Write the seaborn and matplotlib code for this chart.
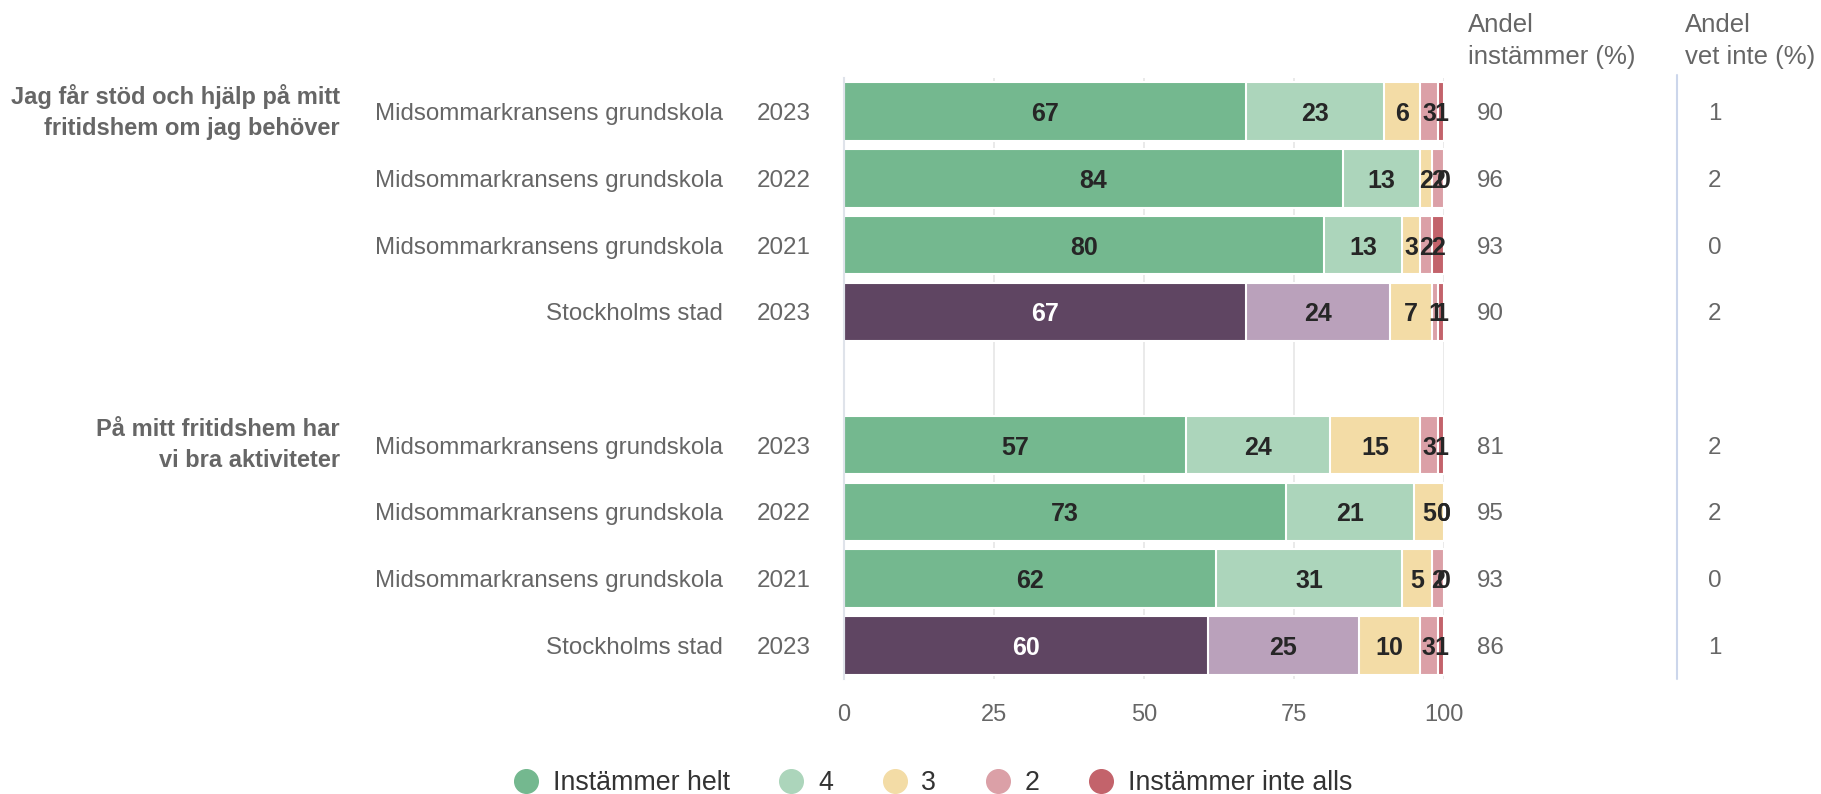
import numpy as np
import pandas as pd
import matplotlib
matplotlib.use("Agg")
import matplotlib.pyplot as plt
import matplotlib.transforms as transforms
from matplotlib.lines import Line2D
import seaborn as sns

# Data

questions = ["Jag får stöd och hjälp på mitt\nfritidshem om jag behöver",
             "På mitt fritidshem har\nvi bra aktiviteter"]
units = ["Midsommarkransens grundskola", "Midsommarkransens grundskola",
         "Midsommarkransens grundskola", "Stockholms stad"] * 2
years = ["2023", "2022", "2021", "2023"] * 2

helt = [67, 84, 80, 67, 57, 73, 62, 60]
fyra = [23, 13, 13, 24, 24, 21, 31, 25]
tre = [6, 2, 3, 7, 15, 5, 5, 10]
tva = [3, 2, 2, 1, 3, 0, 2, 3]
inte_alls = [1, 0, 2, 1, 1, 0, 0, 1]

andel_instammer = [90, 96, 93, 90, 81, 95, 93, 86]
andel_vet_inte = [1, 2, 0, 2, 2, 2, 0, 1]

legend_labels = ["Instämmer helt", "4", "3", "2", "Instämmer inte alls"]
x_ticks = [0, 25, 50, 75, 100]

# Colours
green, light_green = "#74b88f", "#acd5bb"
purple, light_purple = "#5f4562", "#baa1bb"
yellow, pink, red = "#f3dca6", "#dba0a7", "#c3636b"
grey_text = "#666666"
axis_blue = "#ccd6eb"

# Row slots: 4 rows per question, with an empty slot in between
rows = ["r0", "r1", "r2", "r3", "r4", "r5", "r6", "r7"]
order = rows[:4] + ["gap"] + rows[4:]
slot = {r: order.index(r) for r in rows}

vals = np.array([helt, fyra, tre, tva, inte_alls]).T
pct = vals / vals.sum(axis=1, keepdims=True) * 100  # percent stacking
cum = pct.cumsum(axis=1)

df = pd.DataFrame({"row": rows, "enhet": units, "year": years})
for j in range(5):
    df[f"c{j + 1}"] = cum[:, j]

is_sthlm = [u == "Stockholms stad" for u in units]
dark_pal = {r: (purple if s else green) for r, s in zip(rows, is_sthlm)}
light_pal = {r: (light_purple if s else light_green) for r, s in zip(rows, is_sthlm)}

# Figure
sns.set_style("white")
plt.rcParams["font.family"] = ["Liberation Sans", "DejaVu Sans"]

W, H = 1821, 794
fig = plt.figure(figsize=(W / 100, H / 100), dpi=100)
ax = fig.add_axes([844 / W, 1 - 678.7 / H, 600 / W, 600.4 / H])

bar_kw = dict(y="row", order=order, orient="h", width=0.875, edgecolor="white",
              linewidth=1.5, saturation=1, errorbar=None, ax=ax)

# Stacked bars drawn as overlapping cumulative bars, longest first
sns.barplot(data=df, x="c5", color=red, **bar_kw)
sns.barplot(data=df, x="c4", color=pink, **bar_kw)
sns.barplot(data=df, x="c3", color=yellow, **bar_kw)
sns.barplot(data=df, x="c2", hue="row", palette=light_pal, legend=False, **bar_kw)
sns.barplot(data=df, x="c1", hue="row", palette=dark_pal, legend=False, **bar_kw)

ax.set_xlim(0, 100)
ax.set_ylim(8.5, -0.5)
ax.set_xlabel("")
ax.set_ylabel("")
ax.set_xticks(x_ticks)
ax.set_xticklabels([str(t) for t in x_ticks])
ax.tick_params(axis="x", length=0, pad=18, labelsize=17, labelcolor=grey_text)
ax.set_yticks(np.arange(-0.5, 9.0, 1.0))
ax.set_yticklabels([])
ax.tick_params(axis="y", length=14.5, width=1.5, color=axis_blue, direction="out")
ax.grid(axis="x", color="#e6e6e6", linewidth=1.2)
ax.grid(axis="y", visible=False)
ax.set_axisbelow(True)
for s in ["top", "right", "bottom"]:
    ax.spines[s].set_visible(False)
ax.spines["left"].set_color("#dfe3ea")
ax.spines["left"].set_linewidth(1.5)

# Segment labels
for i, r in enumerate(rows):
    for j in range(5):
        xc = cum[i, j] - pct[i, j] / 2
        col = "white" if (j == 0 and is_sthlm[i]) else "#262626"
        ax.text(xc, slot[r], str(vals[i, j]), ha="center", va="center_baseline",
                fontsize=18, fontweight="bold", color=col)

# Labels on the left and value columns on the right
bt = transforms.blended_transform_factory(fig.transFigure, ax.transData)
for i, r in enumerate(rows):
    y = slot[r]
    ax.text(723 / W, y, units[i], transform=bt, ha="right", va="center_baseline",
            fontsize=17.4, color=grey_text)
    ax.text(811 / W, y, years[i], transform=bt, ha="right", va="center_baseline",
            fontsize=17.4, color=grey_text)
    ax.text(1477 / W, y, str(andel_instammer[i]), transform=bt, ha="left",
            va="center_baseline", fontsize=17.4, color=grey_text)
    ax.text(1708 / W, y, str(andel_vet_inte[i]), transform=bt, ha="left",
            va="center_baseline", fontsize=17.4, color=grey_text)

for q, first_row in zip(questions, ["r0", "r4"]):
    ax.text(340 / W, slot[first_row], q, transform=bt, ha="right", va="center",
            fontsize=17, fontweight="bold", color=grey_text, linespacing=1.45)

fig.text(1468 / W, 1 - 13 / H, "Andel\ninstämmer (%)", ha="left", va="top",
         fontsize=18.5, color=grey_text, linespacing=1.4)
fig.text(1685 / W, 1 - 13 / H, "Andel\nvet inte (%)", ha="left", va="top",
         fontsize=18.5, color=grey_text, linespacing=1.4)

# Separator before the "vet inte" column
sep = transforms.blended_transform_factory(fig.transFigure, ax.transAxes)
ax.plot([1677 / W, 1677 / W], [0, 1.005], transform=sep, color=axis_blue,
        linewidth=1.5, clip_on=False)

# Legend
leg_colors = [green, light_green, yellow, pink, red]
handles = [Line2D([], [], marker="o", linestyle="", markersize=17, color=c)
           for c in leg_colors]
fig.legend(handles, legend_labels, loc="center", bbox_to_anchor=(0.512, 0.014),
           ncol=5, frameon=False, fontsize=19.3, handlelength=1.0,
           handletextpad=0.5, columnspacing=1.8, labelcolor="#333333")

fig.savefig("out.png", dpi=100)
